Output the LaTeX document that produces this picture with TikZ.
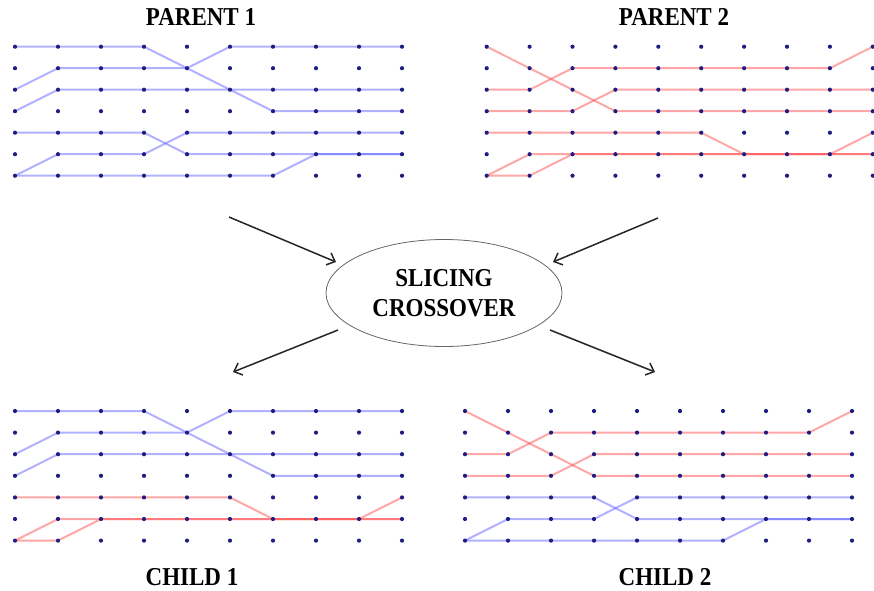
\documentclass[tikz,border=0pt]{standalone}
\usepackage{fontspec}
\setmainfont{Liberation Serif}
\usetikzlibrary{arrows.meta,shapes.geometric}
\definecolor{dotc}{RGB}{30,30,130}
\definecolor{bluel}{RGB}{100,100,255}
\definecolor{redl}{RGB}{255,80,80}
\tikzset{
  bpath/.style={draw=bluel, line width=2pt, opacity=0.5, line join=round},
  rpath/.style={draw=redl, line width=2pt, opacity=0.5, line join=round},
  gdot/.style={fill=dotc},
  title/.style={font=\fontsize{23}{28}\selectfont\bfseries, inner sep=0pt},
  flow/.style={draw=black!85, line width=1.5pt, -{Straight Barb[length=7pt,width=13pt,line width=1.5pt]}},
}
\newcommand{\tall}[1]{\scalebox{1}[1.12]{#1}}
\newcommand{\griddots}{%
  \foreach \c in {0,...,9}{\foreach \r in {0,...,6}{\fill[gdot] (\c,\r) circle[radius=2.1pt];}}}
\newcommand{\ptop}[1]{%
  \draw[#1] (0,0)--(3,0)--(6,3)--(9,3);
  \draw[#1] (0,2)--(1,1)--(4,1)--(5,0)--(9,0);
  \draw[#1] (0,3)--(1,2)--(9,2);}
\newcommand{\pbot}[1]{%
  \draw[#1] (0,4)--(3,4)--(4,5)--(9,5);
  \draw[#1] (0,6)--(1,5)--(3,5)--(4,4)--(9,4);
  \draw[#1] (0,6)--(6,6)--(7,5)--(9,5);}
\newcommand{\qtop}[1]{%
  \draw[#1] (0,0)--(3,3)--(9,3);
  \draw[#1] (0,2)--(1,2)--(2,1)--(8,1)--(9,0);
  \draw[#1] (0,3)--(2,3)--(3,2)--(9,2);}
\newcommand{\qbot}[1]{%
  \draw[#1] (0,4)--(5,4)--(6,5)--(9,5);
  \draw[#1] (0,6)--(1,5)--(9,5);
  \draw[#1] (0,6)--(1,6)--(2,5)--(8,5)--(9,4);}
\begin{document}
\begin{tikzpicture}[x=1pt,y=-1pt]
\useasboundingbox (0,0) rectangle (874,590);
% titles
\node[title] (t1) at (201,17) {\tall{PARENT 1}};
\node[title] (t2) at (674,17) {\tall{PARENT 2}};
\node[title] (t3) at (192,577) {\tall{CHILD 1}};
\node[title] (t4) at (665,577) {\tall{CHILD 2}};
% parent 1
\begin{scope}[shift={(15pt,-46.7pt)},x=43pt,y=-21.5pt]
  \ptop{bpath}\pbot{bpath}\griddots
\end{scope}
% parent 2
\begin{scope}[shift={(486.7pt,-46.7pt)},x=42.9pt,y=-21.5pt]
  \qtop{rpath}\qbot{rpath}\griddots
\end{scope}
% child 1
\begin{scope}[shift={(15pt,-411pt)},x=43pt,y=-21.6pt]
  \ptop{bpath}\qbot{rpath}\griddots
\end{scope}
% child 2
\begin{scope}[shift={(465pt,-411pt)},x=43pt,y=-21.6pt]
  \qtop{rpath}\pbot{bpath}\griddots
\end{scope}
% center
\node[ellipse, draw=black!60, line width=0.8pt, minimum width=236pt, minimum height=107pt,
      align=center, font=\fontsize{23}{30}\selectfont\bfseries] (x) at (444,293) {\tall{SLICING}\\\tall{CROSSOVER}};
\coordinate (a1) at (229,217);
\coordinate (a1e) at (336,262);
\coordinate (a2) at (658,218);
\coordinate (a2e) at (553,262);
\coordinate (a3) at (338,330);
\coordinate (a3e) at (233,372);
\coordinate (a4) at (550,330);
\coordinate (a4e) at (655,372);
\draw[flow] (a1) -- (a1e);
\draw[flow] (a2) -- (a2e);
\draw[flow] (a3) -- (a3e);
\draw[flow] (a4) -- (a4e);
\end{tikzpicture}
\end{document}
